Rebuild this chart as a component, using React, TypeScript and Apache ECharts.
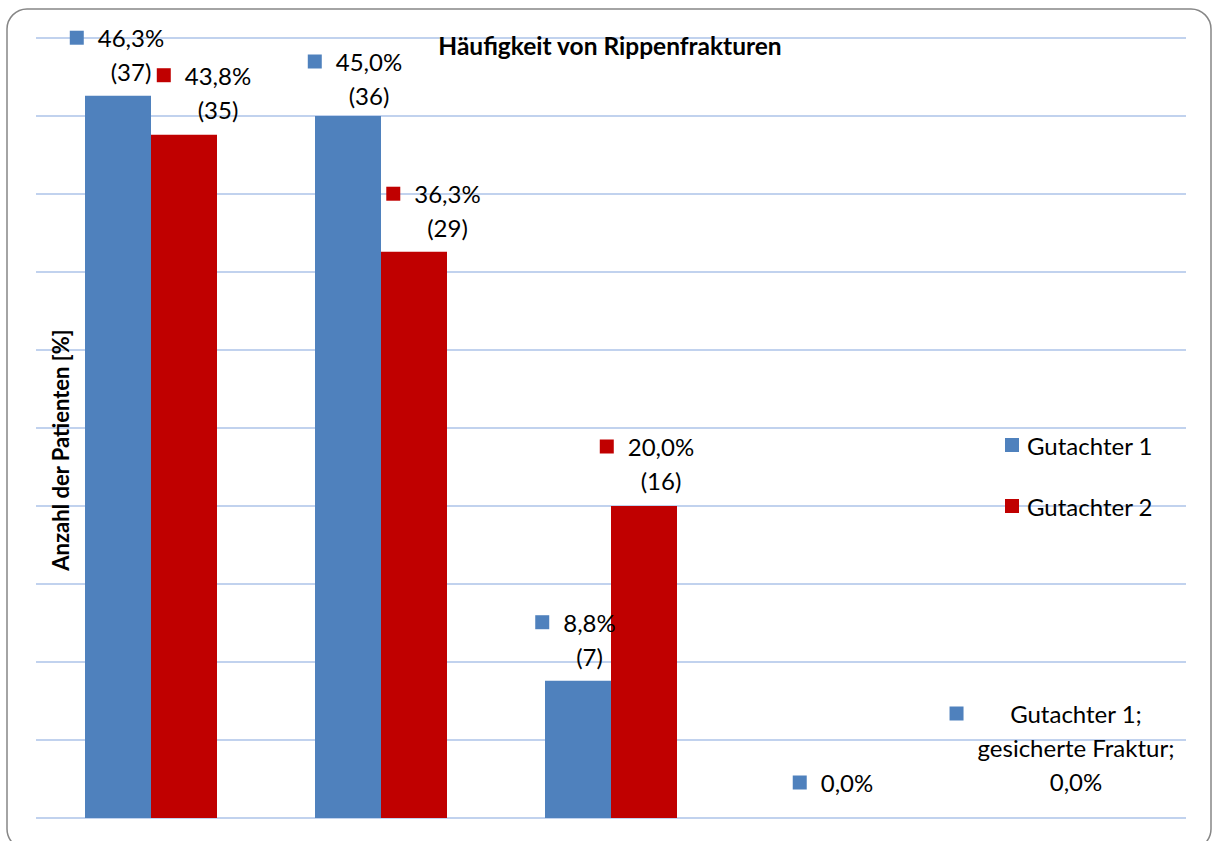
import React, { useEffect, useRef } from "react";
import * as echarts from "echarts";

// ---- data ----
const categories = ["Kategorie 1", "Kategorie 2", "Kategorie 3", "Kategorie 4", "gesicherte Fraktur"];
const seriesNames = ["Gutachter 1", "Gutachter 2"];
const g1Values: (number | null)[] = [46.3, 45.0, 8.8, 0.0, 0.0];
const g1Counts: (number | null)[] = [37, 36, 7, null, null];
const g2Values: (number | null)[] = [43.8, 36.3, 20.0, null, null];
const g2Counts: (number | null)[] = [35, 29, 16, null, null];
const g1ShowNames = [false, false, false, false, true];
const g2ShowNames = [false, false, false, false, false];
const yTicks = { min: 0, max: 50, interval: 5 };

// ---- layout of the data labels (placement only) ----
const g1LabelShift = [[-1, 0], [7, 3.5], [-2.5, -0.5], [25, -11.5], [24, -12.5]];
const g2LabelShift = [[20, -1.5], [19.5, 0], [3, -1.5], [0, 0], [0, 0]];

const BLUE = "#4F81BD";
const RED = "#C00000";
const FONT = "Lato";

const fmtPct = (v: number) => v.toFixed(1).replace(".", ",") + "%";

function buildData(
  values: (number | null)[],
  counts: (number | null)[],
  showNames: boolean[],
  shift: number[][],
  seriesName: string,
  color: string
) {
  return values.map((v, i) => {
    if (v == null) return null;
    const lines: string[] = [];
    if (showNames[i]) {
      lines.push(seriesName + ";");
      lines.push(categories[i] + ";");
    }
    lines.push(fmtPct(v));
    if (counts[i] != null) lines.push("(" + counts[i] + ")");
    const text = lines
      .map((l, k) => (k === 0 ? "{m|}{g|}{t|" + l + "}" : "{s|}{t|" + l + "}"))
      .join("\n");
    return {
      value: v,
      label: {
        show: true,
        position: "top",
        distance: 7,
        offset: shift[i],
        formatter: text,
        rich: {
          m: { width: 14, height: 14, backgroundColor: color, align: "left", verticalAlign: "middle", lineHeight: 34 },
          g: { width: 14, align: "left", lineHeight: 34 },
          s: { width: 28, align: "left", lineHeight: 34 },
          t: { fontSize: 24, fontFamily: FONT, color: "#000", align: "center", lineHeight: 34 },
        },
      },
    };
  });
}

export default function App() {
  const ref = useRef<HTMLDivElement>(null);
  useEffect(() => {
    document.body.style.margin = "0";
    if (!ref.current) return;
    const chart = echarts.init(ref.current, undefined, { renderer: "svg" });
    chart.setOption({
      animation: false,
      backgroundColor: "#fff",
      textStyle: { fontFamily: FONT },
      title: {
        text: "Häufigkeit von Rippenfrakturen",
        left: 610,
        top: 33,
        padding: 0,
        textAlign: "center",
        textStyle: { fontFamily: FONT, fontSize: 24.5, fontWeight: "bold", color: "#000" },
      },
      legend: {
        orient: "vertical",
        left: 1005,
        top: 433,
        padding: 0,
        itemGap: 37,
        itemWidth: 14,
        itemHeight: 14,
        icon: "rect",
        data: seriesNames,
        textStyle: { fontFamily: FONT, fontSize: 24, color: "#000", padding: [0, 0, 0, 3] },
      },
      grid: { left: 36, right: 26, top: 38, bottom: 23, containLabel: false },
      xAxis: {
        type: "category",
        data: categories,
        axisLabel: { show: false },
        axisTick: { show: false },
        axisLine: { show: false },
      },
      yAxis: {
        type: "value",
        min: yTicks.min,
        max: yTicks.max,
        interval: yTicks.interval,
        name: "Anzahl der Patienten [%]",
        nameLocation: "middle",
        nameRotate: 90,
        nameGap: -35,
        nameTextStyle: {
          fontFamily: FONT,
          fontSize: 22,
          fontWeight: "bold",
          color: "#000",
          padding: [0, 44, 0, 0],
        },
        axisLabel: { show: false },
        axisTick: { show: false },
        axisLine: { show: false },
        splitLine: { lineStyle: { color: "#adc3e8", width: 1.5 } },
      },
      series: [
        {
          name: seriesNames[0],
          type: "bar",
          barWidth: 66,
          barGap: "0%",
          itemStyle: { color: BLUE },
          data: buildData(g1Values, g1Counts, g1ShowNames, g1LabelShift, seriesNames[0], BLUE),
        },
        {
          name: seriesNames[1],
          type: "bar",
          barWidth: 66,
          barGap: "0%",
          itemStyle: { color: RED },
          data: buildData(g2Values, g2Counts, g2ShowNames, g2LabelShift, seriesNames[1], RED),
        },
      ],
      graphic: [
        {
          type: "rect",
          silent: true,
          z: 100,
          shape: { x: 7, y: 9, width: 1204, height: 840, r: 20 },
          style: { fill: "none", stroke: "#868686", lineWidth: 1.5 },
        },
      ],
    });
    return () => chart.dispose();
  }, []);
  return <div ref={ref} style={{ width: 1212, height: 841 }} />;
}
